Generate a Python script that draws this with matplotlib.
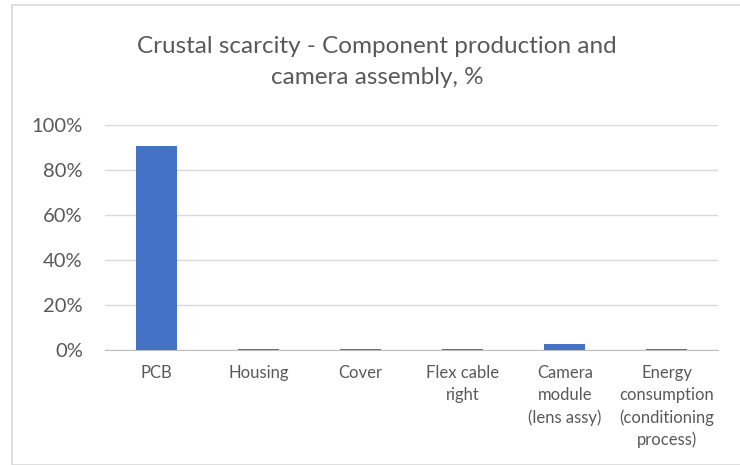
import matplotlib
matplotlib.use('agg')
import matplotlib.pyplot as plt
from matplotlib.patches import Rectangle
from matplotlib.ticker import PercentFormatter

categories = ['PCB', 'Housing', 'Cover', 'Flex cable\nright', 'Camera\nmodule\n(lens assy)',
              'Energy\nconsumption\n(conditioning\nprocess)']
values = [0.905, 0.006, 0.006, 0.003, 0.027, 0.003]
yticks = [0, 0.2, 0.4, 0.6, 0.8, 1.0]

plt.rcParams['font.family'] = ['Lato', 'DejaVu Sans']

fig = plt.figure(figsize=(7.4, 4.65), dpi=100)
fig.patches.append(Rectangle((12 / 740, 0), 1, 1 - 5 / 465, transform=fig.transFigure,
                             fill=False, edgecolor='#D9D9D9', linewidth=1.2))
ax = fig.add_axes([105 / 740, 1 - 350 / 465, 613 / 740, 225 / 465])

x = range(len(categories))
ax.bar(x, values, width=0.40, color='#4472C4', zorder=3)
ax.set_xlim(-0.5, len(categories) - 0.5)
ax.set_ylim(0, 1)
ax.set_yticks(yticks)
ax.yaxis.set_major_formatter(PercentFormatter(1.0, decimals=0))
ax.set_xticks(list(x))
ax.set_xticklabels(categories, fontsize=12, color='#595959', linespacing=1.45)
ax.tick_params(axis='y', labelsize=14.5, labelcolor='#595959', length=0, pad=16)
ax.tick_params(axis='x', length=0, pad=11)
ax.grid(axis='y', color='#D9D9D9', linewidth=1, zorder=0)
for s in ['top', 'right', 'left']:
    ax.spines[s].set_visible(False)
ax.spines['bottom'].set_color('#BFBFBF')

fig.text(377 / 740, 1 - 62 / 465, 'Crustal scarcity - Component production and\ncamera assembly, %',
         ha='center', va='center', fontsize=17.5, color='#595959', linespacing=1.55)

fig.savefig('out.png', dpi=100)
